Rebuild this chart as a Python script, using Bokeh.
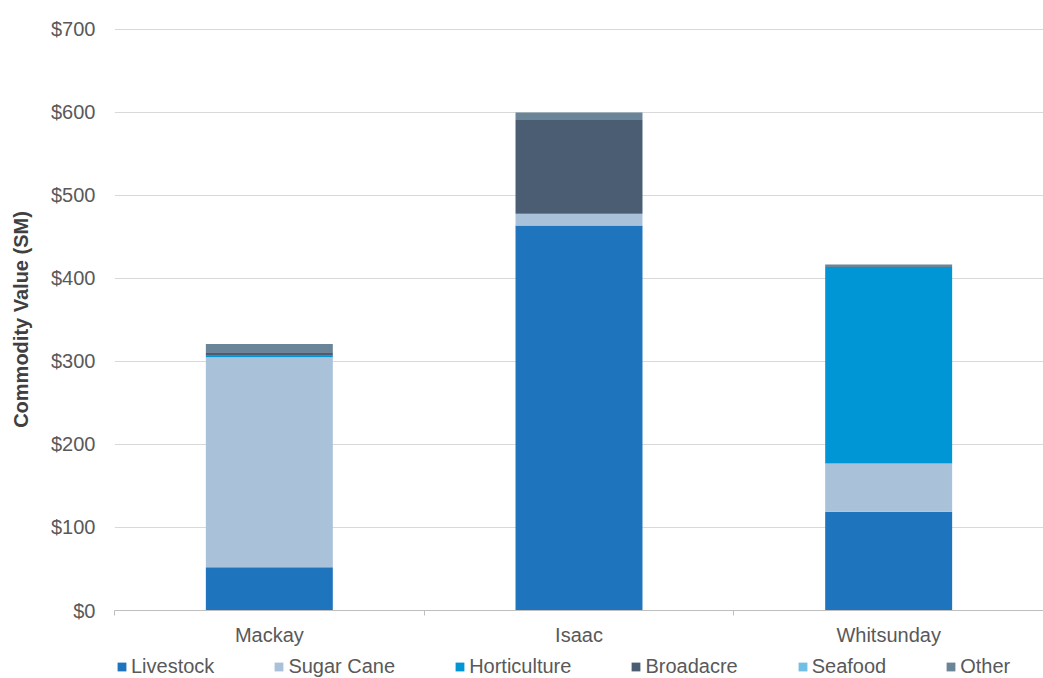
from bokeh.plotting import figure
from bokeh.layouts import column
from bokeh.models import ColumnDataSource, FixedTicker, Legend, LegendItem, NumeralTickFormatter
from bokeh.embed import file_html
from bokeh.resources import INLINE

regions = ["Mackay", "Isaac", "Whitsunday"]
livestock = [52, 464, 119]
sugar_cane = [253, 14, 58]
horticulture = [2, 0, 237]
broadacre = [4, 113, 0]
seafood = [0, 0, 0]
other = [10, 9, 3]

series_names = ["Livestock", "Sugar Cane", "Horticulture", "Broadacre", "Seafood", "Other"]
series_keys = ["livestock", "sugar_cane", "horticulture", "broadacre", "seafood", "other"]
colors = ["#1F74BE", "#A9C1D9", "#0096D6", "#4A5D72", "#71BFE4", "#6B8598"]

xs = [i + 0.5 for i in range(len(regions))]
source = ColumnDataSource(dict(x=xs, livestock=livestock, sugar_cane=sugar_cane,
                               horticulture=horticulture, broadacre=broadacre,
                               seafood=seafood, other=other))

FONT = "Liberation Sans"
TXT = "#595959"
FS = "20px"

p = figure(frame_width=929, frame_height=582, output_backend="svg", toolbar_location=None,
           x_range=(0, len(regions)), y_range=(0, 701.2),
           min_border_left=114, min_border_right=0, min_border_top=28, min_border_bottom=44)
p.outline_line_color = None

p.vbar_stack(series_keys, x="x", width=0.41, source=source, color=colors, line_color=None)

# y axis
p.yaxis.ticker = FixedTicker(ticks=list(range(0, 701, 100)))
p.yaxis.formatter = NumeralTickFormatter(format="$0")
p.yaxis.axis_line_color = None
p.yaxis.major_tick_line_color = None
p.yaxis.minor_tick_line_color = None
p.yaxis.major_label_text_font = FONT
p.yaxis.major_label_text_font_size = FS
p.yaxis.major_label_text_color = TXT
p.yaxis.major_label_standoff = 13
p.yaxis.axis_label = "Commodity Value (SM)"
p.yaxis.axis_label_text_font = FONT
p.yaxis.axis_label_text_font_size = FS
p.yaxis.axis_label_text_font_style = "bold"
p.yaxis.axis_label_text_color = "#404040"
p.yaxis.axis_label_standoff = 16

# x axis: labels at category centres, small ticks at category boundaries
p.xaxis.ticker = FixedTicker(ticks=xs, minor_ticks=list(range(len(regions) + 1)))
p.xaxis.major_label_overrides = {x: r for x, r in zip(xs, regions)}
p.xaxis.axis_line_color = "#BFBFBF"
p.xaxis.major_tick_line_color = None
p.xaxis.minor_tick_line_color = "#BFBFBF"
p.xaxis.minor_tick_out = 5
p.xaxis.minor_tick_in = 0
p.xaxis.major_label_text_font = FONT
p.xaxis.major_label_text_font_size = FS
p.xaxis.major_label_text_color = TXT
p.xaxis.major_label_standoff = 7

p.xgrid.grid_line_color = None
p.ygrid.grid_line_color = "#D9D9D9"
p.ygrid.ticker = FixedTicker(ticks=list(range(0, 701, 100)))

# legend strip below the chart (proxy renderers: zero-height, outside the visible range)
lg = figure(width=1043, height=24, output_backend="svg", toolbar_location=None,
            x_range=(0, 1), y_range=(0, 1), x_axis_location=None, y_axis_location=None,
            min_border=0)
lg.outline_line_color = None
lg.xgrid.grid_line_color = None
lg.ygrid.grid_line_color = None
dummies = [lg.vbar(x=[-5], top=[0], width=0.1, color=c, line_color=None) for c in colors]
items = [LegendItem(label=n, renderers=[r]) for n, r in zip(series_names, dummies)]
legend = Legend(items=items, orientation="horizontal", location=(2, 0),
                label_text_font=FONT, label_text_font_size=FS, label_text_color=TXT,
                glyph_width=11, glyph_height=11, label_standoff=4, spacing=59,
                label_height=20, padding=0, margin=0, border_line_color=None,
                background_fill_alpha=0)
lg.add_layout(legend, "center")

layout = column(p, lg, spacing=0)
open("out.html", "w").write(file_html(layout, INLINE))
